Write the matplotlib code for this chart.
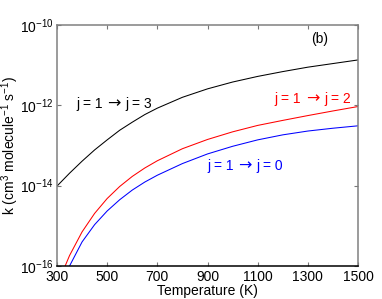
import math
import matplotlib
matplotlib.use("Agg")
import matplotlib.pyplot as plt
from matplotlib.ticker import FixedLocator, FuncFormatter, NullLocator
from matplotlib.transforms import offset_copy

plt.rcParams['font.family'] = ['Liberation Sans', 'DejaVu Sans']
plt.rcParams['mathtext.fontset'] = 'custom'
plt.rcParams['mathtext.rm'] = 'Liberation Sans'
plt.rcParams['mathtext.it'] = 'Liberation Sans:italic'
plt.rcParams['mathtext.bf'] = 'Liberation Sans:bold'
plt.rcParams['mathtext.sf'] = 'Liberation Sans'

# Data (log10 of rate coefficient)
T = [300, 350, 400, 450, 500, 550, 600, 650, 700, 800, 900, 1000, 1100, 1200, 1300, 1400, 1500]
log_k13 = [-14.01, -13.69, -13.39, -13.11, -12.86, -12.62, -12.42, -12.23, -12.07,
           -11.80, -11.59, -11.42, -11.28, -11.16, -11.05, -10.96, -10.87]
log_k12 = [-16.48, -15.74, -15.15, -14.69, -14.32, -14.02, -13.77, -13.56, -13.38,
           -13.08, -12.85, -12.66, -12.50, -12.375, -12.255, -12.14, -12.03]
log_k10 = [-16.80, -16.00, -15.40, -14.97, -14.63, -14.35, -14.11, -13.91, -13.74,
           -13.45, -13.21, -13.02, -12.86, -12.735, -12.64, -12.57, -12.51]

x_ticks = [300, 500, 700, 900, 1100, 1300, 1500]
y_tick_exps = [-16, -14, -12, -10]

k13 = [10 ** v for v in log_k13]
k12 = [10 ** v for v in log_k12]
k10 = [10 ** v for v in log_k10]

fig = plt.figure(figsize=(3.82, 2.99), dpi=100)
ax = fig.add_axes([57 / 382, 1 - 266 / 299, (358 - 57) / 382, (266 - 25) / 299])

lw = 0.75
ax.plot(T, k13, color='black', lw=lw)
ax.plot(T, k12, color='#ff0000', lw=lw)
ax.plot(T, k10, color='#0000ff', lw=lw)

ax.set_yscale('log')
ax.set_xlim(300, 1500)
ax.set_ylim(1e-16, 1e-10)

ax.xaxis.set_major_locator(FixedLocator(x_ticks))
ax.yaxis.set_major_locator(FixedLocator([10.0 ** e for e in y_tick_exps]))
ax.yaxis.set_minor_locator(NullLocator())
ax.xaxis.set_minor_locator(NullLocator())
ax.yaxis.set_major_formatter(
    FuncFormatter(lambda v, p: r'$\mathregular{10^{%d}}$' % round(math.log10(v))))

ax.tick_params(direction='in', length=3, width=0.8, top=True, right=True,
               labelsize=10, colors='#777777', labelcolor='black', pad=3)
ax.tick_params(axis='y', pad=2.5)

for s in ['top', 'left', 'right']:
    ax.spines[s].set_color('#808080')
    ax.spines[s].set_linewidth(1.1)
ax.spines['bottom'].set_color('black')
ax.spines['bottom'].set_linewidth(1.1)

ax.set_xlabel('Temperature (K)', fontsize=10, labelpad=0)
ax.set_ylabel(r'k (cm$^{3}$ molecule$^{-1}$ s$^{-1}$)', fontsize=10)
ax.yaxis.set_label_coords(-0.121, 0.5)


def transition_label(x, y, left, right, color):
    gap = 8.3  # points from centre to each text piece
    ax.text(x, y, left, color=color, fontsize=10, ha='right', va='baseline',
            transform=offset_copy(ax.transData, fig=fig, x=-gap, y=0, units='points'))
    ax.text(x, y, '\u2192', color=color, fontsize=11.5, ha='center', va='baseline',
            family='DejaVu Sans',
            transform=offset_copy(ax.transData, fig=fig, x=0, y=-0.2, units='points'))
    ax.text(x, y, right, color=color, fontsize=10, ha='left', va='baseline',
            transform=offset_copy(ax.transData, fig=fig, x=gap, y=0, units='points'))


transition_label(527, 10 ** -12.06, 'j = 1', 'j = 3', 'black')
transition_label(1319, 10 ** -11.94, 'j = 1', 'j = 2', '#ff0000')
transition_label(1050, 10 ** -13.61, 'j = 1', 'j = 0', '#0000ff')
ax.text(1349, 10 ** -10.35, '(b)', color='black', fontsize=10, ha='center', va='center')

fig.savefig('out.png', dpi=100)
